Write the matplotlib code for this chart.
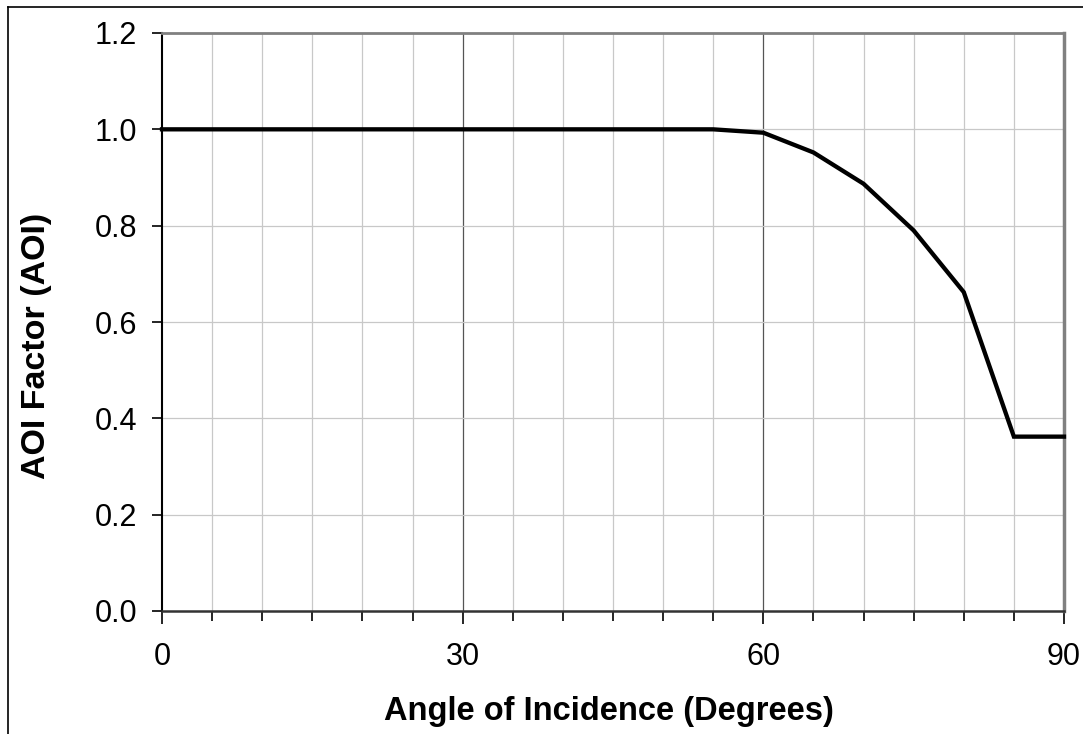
import matplotlib
matplotlib.use("Agg")
import matplotlib.pyplot as plt
from matplotlib.lines import Line2D
from matplotlib.ticker import MultipleLocator

angles = [0, 5, 10, 15, 20, 25, 30, 35, 40, 45, 50, 55, 60, 65, 70, 75, 80, 85, 90]
aoi = [1.0, 1.0, 1.0, 1.0, 1.0, 1.0, 1.0, 1.0, 1.0, 1.0, 1.0, 1.0,
       0.993, 0.952, 0.887, 0.790, 0.662, 0.362, 0.362]
x_major = [0, 30, 60, 90]
y_ticks = [0.0, 0.2, 0.4, 0.6, 0.8, 1.0, 1.2]

plt.rcParams['font.family'] = ['Liberation Sans', 'DejaVu Sans']

W, H = 1083, 734
fig = plt.figure(figsize=(W / 100, H / 100), dpi=100)
L, R, T, B = 162, 1064, 33, 611
ax = fig.add_axes([L / W, 1 - B / H, (R - L) / W, (B - T) / H])

ax.set_xlim(0, 90)
ax.set_ylim(0, 1.2)

# grid
for xv in range(5, 90, 5):
    if xv in x_major:
        ax.axvline(xv, color='#555555', lw=0.9, zorder=1)
    else:
        ax.axvline(xv, color='#c8c8c8', lw=0.9, zorder=1)
for yv in y_ticks[1:-1]:
    ax.axhline(yv, color='#c8c8c8', lw=0.9, zorder=1)

ax.plot(angles, aoi, color='black', lw=3.1, solid_joinstyle='miter', zorder=3, clip_on=False)

ax.set_xticks(x_major)
ax.xaxis.set_minor_locator(MultipleLocator(5))
ax.set_yticks(y_ticks)
ax.set_yticklabels([f"{v:.1f}" for v in y_ticks])
ax.tick_params(axis='both', which='major', direction='out', width=1.2,
               labelsize=22, color='black')
ax.tick_params(axis='x', which='major', length=9, pad=13)
ax.tick_params(axis='x', which='minor', direction='out', length=7, width=1.2, color='black')
ax.tick_params(axis='y', which='major', length=7, pad=11)

ax.spines['left'].set_color('black')
ax.spines['left'].set_linewidth(1.5)
ax.spines['bottom'].set_color('#333333')
ax.spines['bottom'].set_linewidth(1.8)
ax.spines['top'].set_color('#808080')
ax.spines['top'].set_linewidth(2.0)
ax.spines['right'].set_color('#808080')
ax.spines['right'].set_linewidth(2.5)

fig.text(609 / W, 1 - 720 / H, 'Angle of Incidence (Degrees)', fontsize=23.5,
         fontweight='bold', ha='center', va='baseline')
fig.text(36.5 / W, 1 - 346 / H, 'AOI Factor (AOI)', fontsize=24.5,
         fontweight='bold', ha='center', va='center', rotation=90)

# figure border (left and top visible)
fig.add_artist(Line2D([7.5 / W, 7.5 / W], [0, 1 - 6.5 / H], transform=fig.transFigure,
                      color='black', lw=1.2))
fig.add_artist(Line2D([7.5 / W, 1], [1 - 6.5 / H, 1 - 6.5 / H], transform=fig.transFigure,
                      color='black', lw=1.2))

fig.savefig('out.png', dpi=100)
